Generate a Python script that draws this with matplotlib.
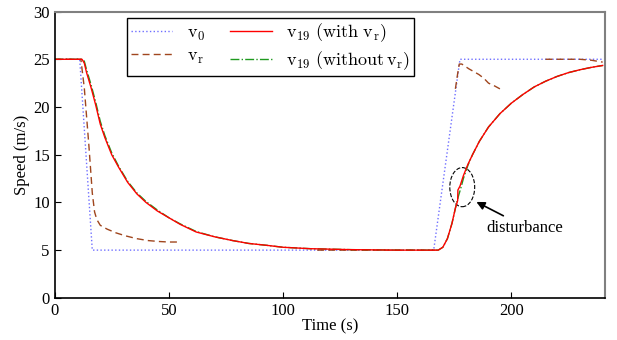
import matplotlib
matplotlib.use("Agg")
import matplotlib.pyplot as plt
from matplotlib.patches import Ellipse
import numpy as np

plt.rcParams['font.family'] = ['Liberation Serif', 'DejaVu Serif']
plt.rcParams['mathtext.fontset'] = 'cm'

# reference speed of the leader
t_v0 = [0, 11, 16.5, 166, 177.5, 240]
v_v0 = [25, 25, 5, 5, 25, 25]

# v_r, only where it was available (nan = gap)
t_vr = [0, 11.5, 13, 15, 16.5, 17.5, 18.5, 20, 23, 27, 31, 36, 41, 46, 50, 55,
        55.5, 115, 140, 168, 168.5,
        175.5, 176.5, 177.2, 178.3, 181.4, 183.6, 185.8, 188, 190, 192.7, 195,
        195.5, 215, 225, 230, 235, 240]
v_vr = [25, 25, 22, 16, 11, 9, 8.2, 7.6, 7.2, 6.8, 6.5, 6.2, 6.0, 5.9, 5.85, 5.85,
        np.nan, 5.0, 5.0, 5.0, np.nan,
        21.9, 23.5, 24.5, 24.5, 24.0, 23.7, 23.4, 23.0, 22.5, 22.2, 21.9,
        np.nan, 25, 25, 25, 24.9, 24.7]

# follower 19 with v_r (with disturbance)
t_with = [0, 12, 13, 14, 16, 18, 20, 22, 25, 28, 32, 36, 40, 45, 50, 55, 62, 70,
          78, 85, 93, 100, 112, 130, 150, 168, 170, 172, 174, 175.5, 176.5,
          176.6, 177.5, 179, 181, 183, 186, 190, 195, 200, 205, 210, 215, 220,
          225, 230, 235, 240]
v_with = [25, 25, 24.6, 23.6, 22, 20.2, 18.2, 16.8, 15.0, 13.7, 12.1, 10.9, 10.0,
          9.1, 8.4, 7.7, 6.9, 6.4, 6.0, 5.7, 5.5, 5.3, 5.15, 5.05, 5.0, 5.0, 5.3,
          6.2, 7.8, 9.4, 10.2, 11.3, 11.7, 12.8, 14.0, 15.0, 16.4, 17.9, 19.3,
          20.4, 21.3, 22.1, 22.7, 23.2, 23.6, 23.9, 24.15, 24.35]

# follower 19 without v_r
t_without = [0, 12, 13, 14, 16, 18, 20, 22, 25, 28, 32, 36, 40, 45, 50, 55, 62,
             70, 78, 85, 93, 100, 112, 130, 150, 168, 170, 172, 174, 176, 177,
             178, 179, 181, 183, 186, 190, 195, 200, 205, 210, 215, 220, 225,
             230, 235, 240]
v_without = [25, 25, 24.8, 23.9, 22.3, 20.5, 18.5, 17.0, 15.2, 13.8, 12.2, 11.0,
             10.1, 9.2, 8.4, 7.75, 6.95, 6.4, 6.0, 5.7, 5.5, 5.3, 5.15, 5.05, 5.0,
             5.0, 5.3, 6.2, 7.8, 9.9, 10.8, 11.6, 12.5, 13.9, 15.0, 16.4, 17.9,
             19.3, 20.4, 21.3, 22.1, 22.7, 23.2, 23.6, 23.9, 24.15, 24.35]

fig = plt.figure(figsize=(6.17, 3.4), dpi=100)
ax = fig.add_axes([0.0885, 0.124, 0.892, 0.842])

ax.plot(t_v0, v_v0, ':', color='#6f6fff', lw=1.0, label=r'$\mathrm{v_0}$')
ax.plot(t_vr, v_vr, '--', color='#a0461e', lw=1.0, dashes=(5, 3), label=r'$\mathrm{v_r}$')
ax.plot(t_without, v_without, '-.', color='#1f9a1f', lw=1.0, label=r'$\mathrm{v_{19}\ (without\,v_r)}$')
ax.plot(t_with, v_with, '-', color='#ff0000', lw=1.0, label=r'$\mathrm{v_{19}\ (with\ v_r)}$')

ax.add_patch(Ellipse((178.5, 11.6), 10.9, 4.1, fill=False, ls='--', lw=0.8, color='black'))
ax.annotate('', xy=(184.7, 10.05), xytext=(196.5, 8.6),
            arrowprops=dict(arrowstyle='-|>', color='black', lw=1.2,
                            mutation_scale=12, shrinkA=0, shrinkB=0))
ax.text(206, 7.3, 'disturbance', fontsize=12, ha='center', va='center')

ax.set_xlim(0, 241)
ax.set_ylim(0, 30)
ax.set_xticks([0, 50, 100, 150, 200])
ax.set_yticks([0, 5, 10, 15, 20, 25, 30])
ax.tick_params(direction='in', labelsize=12, length=4, top=False, right=False)
ax.set_xlabel('Time (s)', fontsize=12, labelpad=0)
ax.set_ylabel('Speed (m/s)', fontsize=12, labelpad=2)
for s in ['top', 'right']:
    ax.spines[s].set_color('#808080')
    ax.spines[s].set_linewidth(1.5)
for s in ['left', 'bottom']:
    ax.spines[s].set_linewidth(1.2)

h, l = ax.get_legend_handles_labels()
order = [0, 1, 3, 2]
leg = ax.legend([h[i] for i in order], [l[i] for i in order], ncol=2,
                loc='upper left', bbox_to_anchor=(0.132, 0.977), fontsize=13,
                fancybox=False, edgecolor='black', framealpha=1,
                handlelength=2.3, columnspacing=1.4, borderaxespad=0,
                labelspacing=0.28, borderpad=0.2)
leg.get_frame().set_linewidth(1.0)

fig.savefig('out.png', dpi=100)
